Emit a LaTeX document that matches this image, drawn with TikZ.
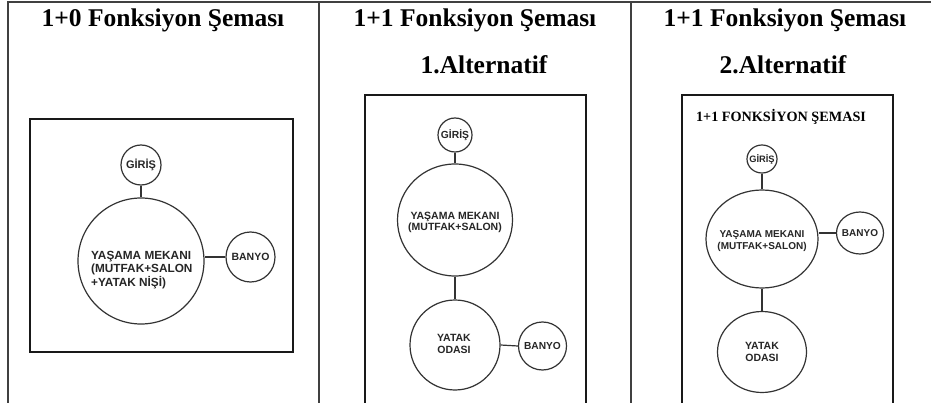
\documentclass[tikz,border=0pt]{standalone}
\usepackage{fontspec}
\setmainfont{Liberation Serif}
\newfontfamily\arialf{Liberation Sans}
\usetikzlibrary{shapes.geometric}
\begin{document}
\begin{tikzpicture}[x=1pt,y=-1pt,
  frame/.style={draw=black!75, line width=1.2pt},
  panelbox/.style={draw=black!90, line width=1.8pt},
  room/.style={draw=black!80, line width=1.2pt, fill=white, ellipse, inner sep=0pt},
  link/.style={draw=black!80, line width=1.2pt},
  lab/.style 2 args={inner sep=0pt, text=black!85, align=center, font=\arialf\bfseries\fontsize{#1}{#2}\selectfont},
  ttl/.style={inner sep=0pt, anchor=base, text=black, font=\bfseries\fontsize{25.5}{30}\selectfont},
]
\fill[white] (0,0) rectangle (931,403);
\useasboundingbox (0,0) rectangle (931,403);

% outer table
\draw[frame] (8,403) -- (8,2) -- (931,2);
\draw[frame] (319,2) -- (319,403);
\draw[frame] (631,2) -- (631,403);

% titles
\node[ttl] (t1) at (163,27) {1+0 Fonksiyon Şeması};
\node[ttl] (t2) at (475,27) {1+1 Fonksiyon Şeması};
\node[ttl] (t2b) at (484,74) {1.Alternatif};
\node[ttl] (t3) at (785,27) {1+1 Fonksiyon Şeması};
\node[ttl] (t3b) at (783,74) {2.Alternatif};

% ---------- panel 1 ----------
\draw[panelbox] (30,119) rectangle (293,352);
\node[room, minimum width=40, minimum height=40] (g1) at (141,165) {};
\node[lab={11}{13}] (g1t) at (g1) {GİRİŞ};
\node[room, minimum width=126, minimum height=126] (y1) at (141,261) {};
\node[inner sep=0pt, text=black!85, align=left, anchor=west, font=\arialf\bfseries\fontsize{11.8}{13.5}\selectfont] (y1t) at (91,270) {YAŞAMA MEKANI\\(MUTFAK+SALON\\+YATAK NİŞİ)};
\node[room, minimum width=49, minimum height=50] (b1) at (250.5,257) {};
\node[lab={10.5}{12}] (b1t) at (b1) {BANYO};
\draw[link] (g1.south) -- (y1.north);
\draw[link] (b1.west) -- (b1.west -| y1.east);

% ---------- panel 2 ----------
\draw[panelbox] (365,403) -- (365,95) -- (586,95) -- (586,403);
\node[room, minimum width=34, minimum height=34] (g2) at (455,135) {};
\node[lab={10.3}{12}] (g2t) at (g2) {GİRİŞ};
\node[room, minimum width=115, minimum height=112] (y2) at (455,220) {};
\node[lab={10.5}{11}] (y2t) at (455,222.5) {YAŞAMA MEKANI\\(MUTFAK+SALON)};
\node[room, minimum width=90, minimum height=90] (k2) at (455,345) {};
\node[lab={10.5}{12}] (k2t) at (454,344) {YATAK\\ODASI};
\node[room, minimum width=48, minimum height=48] (b2) at (542.5,346) {};
\node[lab={10.2}{12}] (b2t) at (b2) {BANYO};
\draw[link] (g2.south) -- (y2.north);
\draw[link] (y2.south) -- (k2.north);
\draw[link] (b2.west) -- (k2.east);

% ---------- panel 3 ----------
\draw[panelbox] (682,403) -- (682,95) -- (893,95) -- (893,403);
\node[inner sep=0pt, anchor=base, text=black, font=\bfseries\fontsize{14.2}{17}\selectfont] (t3c) at (781,122) {1+1 FONKSİYON ŞEMASI};
\node[room, minimum width=30, minimum height=28] (g3) at (762,159) {};
\node[lab={9.3}{10}] (g3t) at (g3) {GİRİŞ};
\node[room, minimum width=112, minimum height=98] (y3) at (762,239) {};
\node[lab={10}{12}] (y3t) at (762,241) {YAŞAMA MEKANI\\(MUTFAK+SALON)};
\node[room, minimum width=47, minimum height=42] (b3) at (860,233) {};
\node[lab={10}{12}] (b3t) at (b3) {BANYO};
\node[room, minimum width=89, minimum height=81] (k3) at (762,352) {};
\node[lab={10.5}{12}] (k3t) at (762,352) {YATAK\\ODASI};
\draw[link] (g3.south) -- (y3.north);
\draw[link] (b3.west) -- (b3.west -| y3.east);
\draw[link] (y3.south) -- (k3.north);
\end{tikzpicture}
\end{document}
